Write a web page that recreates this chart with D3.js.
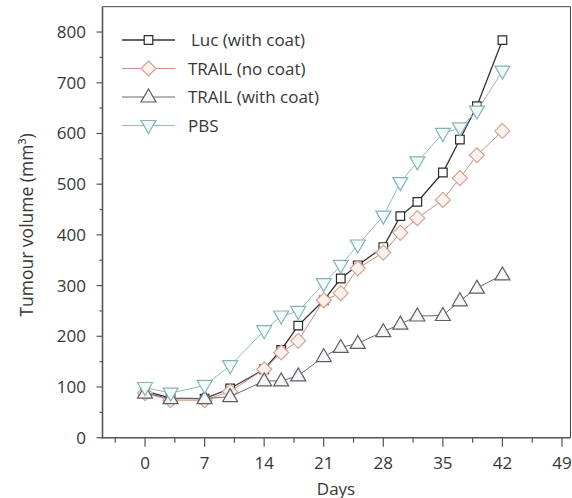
<!DOCTYPE html>
<html><head><meta charset="utf-8">
<script src="https://cdn.jsdelivr.net/npm/d3@7"></script>
<style>body{margin:0;background:#fff}svg{display:block}text{font-family:"Open Sans",sans-serif;fill:#363636}</style>
</head><body><svg id="c" width="572" height="498"></svg>
<script>
const days = [0,3,7,10,14,16,18,21,23,25,28,30,32,35,37,39,42];
const lucWithCoat = [92,78,77,97,135,173,221,271,314,340,376,437,465,523,588,654,784];
const trailNoCoat = [88,74,74,91,135,168,191,271,285,334,365,404,433,469,512,557,605];
const trailWithCoat = [88,77,77,81,112,112,122,160,178,186,209,224,240,241,270,295,321];
const pbs = [99,88,103,142,211,240,249,304,340,380,437,503,544,600,611,644,723];
const seriesNames = ["Luc (with coat)","TRAIL (no coat)","TRAIL (with coat)","PBS"];
const xTicks = [0,7,14,21,28,35,42,49];
const yTicks = [0,100,200,300,400,500,600,700,800];

const series = [
  {name:seriesNames[0], vals:lucWithCoat, sym:"square", stroke:"#2a2a2a", line:"#333", fill:"#fff", lw:1.3},
  {name:seriesNames[1], vals:trailNoCoat, sym:"diamond", stroke:"#d4a394", line:"#c98f80", fill:"#fdf1ed", lw:1},
  {name:seriesNames[2], vals:trailWithCoat, sym:"up", stroke:"#5e5e66", line:"#6a6a70", fill:"#f6f6fa", lw:1},
  {name:seriesNames[3], vals:pbs, sym:"down", stroke:"#84b4b4", line:"#8dbcbc", fill:"#f2f9f9", lw:1}
];

const svg = d3.select("#c");
const x = d3.scaleLinear().domain([-5,50]).range([102.5,570.5]);
const y = d3.scaleLinear().domain([0,850]).range([437.7,6.7]);

function sym(g, type, cx, cy, s){
  let p;
  if(type==="square") p = `M${cx-4.3},${cy-4.3}h8.6v8.6h-8.6Z`;
  else if(type==="diamond") p = `M${cx},${cy-7.5}L${cx+7.5},${cy}L${cx},${cy+7.5}L${cx-7.5},${cy}Z`;
  else if(type==="up") p = `M${cx},${cy-8}L${cx+7.5},${cy+5}L${cx-7.5},${cy+5}Z`;
  else p = `M${cx},${cy+8}L${cx+7.5},${cy-5}L${cx-7.5},${cy-5}Z`;
  g.append("path").attr("d",p).attr("fill",s.fill).attr("stroke",s.stroke).attr("stroke-width",1.2);
}

svg.append("path").attr("d",`M${x(-5)},${y(850)}H${x(50)}V${y(0)}`).attr("fill","none").attr("stroke","#444").attr("stroke-width",1);

const line = d3.line().x((d,i)=>x(days[i])).y(d=>y(d));
series.forEach(s=>{
  const g = svg.append("g");
  g.append("path").attr("d",line(s.vals)).attr("fill","none").attr("stroke",s.line).attr("stroke-width",s.lw);
  s.vals.forEach((v,i)=>sym(g,s.sym,x(days[i]),y(v),s));
});

const ax = svg.append("g").attr("stroke","#555");
ax.append("line").attr("x1",x(-5)).attr("x2",x(-5)).attr("y1",y(850)).attr("y2",y(0)+0.5).attr("stroke-width",1.6);
ax.append("line").attr("x1",x(-5)-1).attr("x2",x(50)).attr("y1",y(0)).attr("y2",y(0)).attr("stroke-width",1.6);
for(let v=0; v<=800; v+=50){
  const major = v%100===0;
  ax.append("line").attr("x1",x(-5)).attr("x2",x(-5)-(major?6:3)).attr("y1",y(v)).attr("y2",y(v)).attr("stroke-width",1.2);
}
for(let d=-3.5; d<=49; d+=3.5){
  const major = Math.abs(d%7)<1e-6;
  ax.append("line").attr("x1",x(d)).attr("x2",x(d)).attr("y1",y(0)).attr("y2",y(0)+(major?9:5)).attr("stroke-width",1.2);
}
yTicks.forEach(v=>svg.append("text").attr("x",86).attr("y",y(v)+6).attr("text-anchor","end").attr("font-size",17).text(v));
xTicks.forEach(d=>svg.append("text").attr("x",x(d)).attr("y",468.5).attr("text-anchor","middle").attr("font-size",17).text(d));
svg.append("text").attr("x",336).attr("y",494.5).attr("text-anchor","middle").attr("font-size",17).text("Days");
svg.append("text").attr("transform","translate(33,225) rotate(-90)").attr("text-anchor","middle").attr("font-size",17.5).text("Tumour volume (mm³)");

series.forEach((s,i)=>{
  const ly = 40 + i*28.5;
  const g = svg.append("g");
  g.append("line").attr("x1",122).attr("x2",175).attr("y1",ly).attr("y2",ly).attr("stroke",s.line).attr("stroke-width",s.lw);
  sym(g,s.sym,148.5,ly,s);
  g.append("text").attr("x",i===0?191:188).attr("y",ly+6).attr("font-size",17).text(s.name);
});
</script></body></html>
